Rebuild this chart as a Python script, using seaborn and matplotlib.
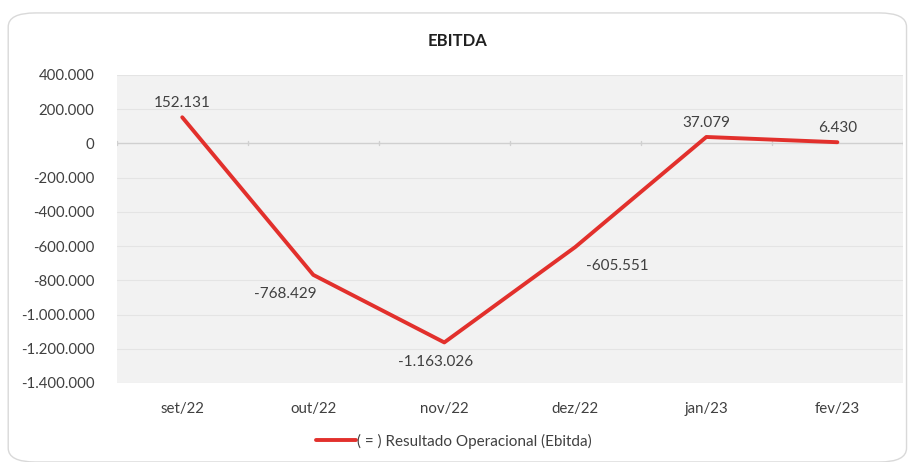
import numpy as np
import pandas as pd
import matplotlib.pyplot as plt
import seaborn as sns
from matplotlib.patches import FancyBboxPatch
from matplotlib.ticker import FuncFormatter

meses = ['set/22', 'out/22', 'nov/22', 'dez/22', 'jan/23', 'fev/23']
ebitda = [152131, -768429, -1163026, -605551, 37079, 6430]
serie = '( = ) Resultado Operacional (Ebitda)'
yticks = np.arange(-1400000, 400001, 200000)

# posicao dos rotulos (estilo excel)
label_offsets = [(0, 10), (-20, -14), (-6, -14), (30, -14), (0, 10), (0, 10)]

sns.set_theme(style='white')
plt.rcParams['font.family'] = ['Lato', 'DejaVu Sans']

df = pd.DataFrame({'mes': meses, 'valor': ebitda})

def fmt_br(v, pos=None):
    s = f'{abs(int(round(v))):,}'.replace(',', '.')
    return ('-' if v < 0 else '') + s

fig = plt.figure(figsize=(9.12, 4.62), dpi=100)
fig.patch.set_facecolor('white')
border = FancyBboxPatch((0.009, 0.0), 0.985, 0.972, boxstyle='round,pad=0,rounding_size=0.03',
                        transform=fig.transFigure, facecolor='white', edgecolor='#d9d9d9',
                        linewidth=1.0, zorder=-10)
fig.patches.append(border)

ax = fig.add_axes([0.128, 0.171, 0.862, 0.667])
ax.set_facecolor('#f2f2f2')

x = np.arange(len(meses))
sns.lineplot(x=x, y=df['valor'], ax=ax, color='#e2302c', linewidth=2.8,
             label=serie, legend=False, zorder=3)

ax.set_xlim(-0.5, len(meses) - 0.5)
ax.set_ylim(yticks[0], yticks[-1])
ax.set_yticks(yticks)
ax.yaxis.set_major_formatter(FuncFormatter(fmt_br))
ax.set_xticks(x)
ax.set_xticklabels(meses)
ax.tick_params(axis='both', length=0, labelsize=10.8, colors='#404040')
ax.tick_params(axis='x', pad=14)
ax.tick_params(axis='y', pad=16)
for s in ax.spines.values():
    s.set_visible(False)

for yv in yticks:
    if yv != 0:
        ax.axhline(yv, color='#e4e4e4', linewidth=0.8, zorder=1)
ax.axhline(0, color='#d0d0d0', linewidth=1.0, zorder=2)
for b in np.arange(-0.5, len(meses), 1.0):
    ax.plot([b, b], [-12000, 12000], color='#d0d0d0', linewidth=1.0, zorder=2)

ax.set_xlabel('')
ax.set_ylabel('')

for xi, v, (dx, dy) in zip(x, ebitda, label_offsets):
    ax.annotate(fmt_br(v), (xi, v), xytext=(dx, dy), textcoords='offset points',
                ha='center', va='center', fontsize=11, color='#404040', zorder=4)

fig.text(0.502, 0.912, 'EBITDA', ha='center', va='center', fontsize=12,
         fontweight='bold', color='#202020')

handles, labels = ax.get_legend_handles_labels()
fig.legend(handles, labels, loc='center', bbox_to_anchor=(0.498, 0.045), frameon=False,
           fontsize=11, handlelength=2.6, handletextpad=0.1, labelcolor='#404040')

fig.savefig('out.png', dpi=100, facecolor='white')
